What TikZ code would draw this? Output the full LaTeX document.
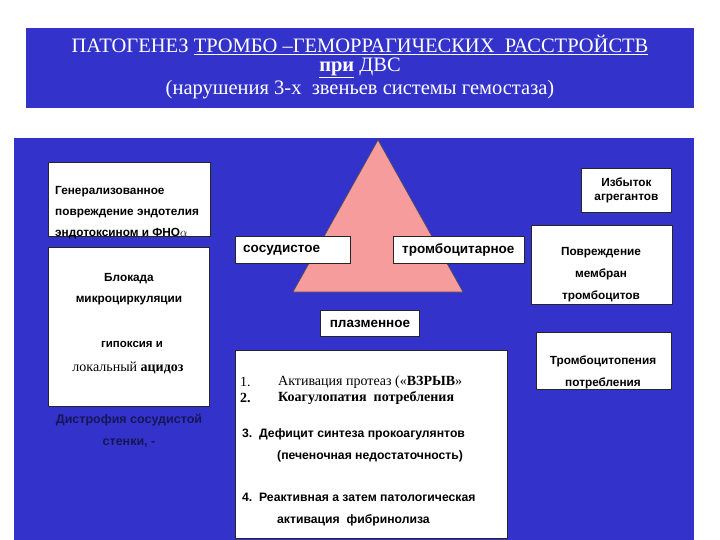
\documentclass[tikz,border=0pt]{standalone}
\usepackage{fontspec}
\setmainfont{Liberation Serif}
\setsansfont{Liberation Sans}
\usetikzlibrary{positioning}
\definecolor{sinij}{RGB}{51,51,204}
\definecolor{rozovyj}{RGB}{246,156,156}
\definecolor{temnyj}{RGB}{22,22,84}
\tikzset{
    fon/.style={fill=sinij,draw=none},
    ramka/.style={draw=black!85,fill=white,line width=0.9pt,anchor=north west,inner sep=0pt},
    bsans/.style={font=\sffamily\bfseries\fontsize{11.8}{21}\selectfont,inner sep=0pt,align=center},
    metka/.style={font=\sffamily\bfseries\fontsize{13.5}{16}\selectfont,inner sep=0pt,anchor=west},
    punkt/.style={font=\fontsize{14}{16}\selectfont,inner sep=0pt,anchor=west},
    punktsans/.style={font=\sffamily\bfseries\fontsize{12.2}{14}\selectfont,inner sep=0pt,anchor=west},
    zag/.style={text=white,font=\fontsize{20.5}{24}\selectfont,inner sep=0pt},
}

\begin{document}
\begin{tikzpicture}[x=1pt,y=-1pt]
\useasboundingbox (0,0) rectangle (720,540);

% fon
\path[fon] (26,28) rectangle (694,108);
\path[fon] (14,138) rectangle (694,540);

% zagolovok
\node[zag] (zag1) at (360,45) {ПАТОГЕНЕЗ \underline{ТРОМБО –ГЕМОРРАГИЧЕСКИХ\ \ РАССТРОЙСТВ}};
\node[zag] (zag2) at (360,68) {\underline{\textbf{при}} ДВС};
\node[zag] (zag3) at (360,90) {(нарушения 3-х\ \ звеньев системы гемостаза)};

% treugolnik
\coordinate (verh) at (378,140);
\coordinate (levo) at (293,292);
\coordinate (pravo) at (463,292);
\draw[fill=rozovyj,draw=black!70,line width=0.6pt] (verh) -- (levo) -- (pravo) -- cycle;

\node[ramka,minimum width=115,minimum height=27] (sosud) at (235,236) {};
\node[metka] (sosudt) at (243,250) {сосудистое};
\node[ramka,minimum width=131,minimum height=27] (tromb) at (393,236) {};
\node[metka] (trombt) at (402,250) {тромбоцитарное};
\node[ramka,minimum width=99,minimum height=26] (plazm) at (320,310) {};
\node[metka,anchor=center] (plazmt) at (plazm.center) {плазменное};

% levaja kolonka
\node[ramka,minimum width=162,minimum height=74] (gener) at (48,162) {};
\node[bsans,align=left,anchor=west] (genert) at (55,213) {Генерализованное\\повреждение эндотелия\\эндотоксином и ФНО$\alpha$};
\node[ramka,minimum width=161,minimum height=159] (blok) at (48,247) {};
\node[bsans] (blokt) at (129,289.5) {Блокада\\микроциркуляции};
\node[bsans,font=\sffamily\bfseries\fontsize{11.5}{13}\selectfont] (gipoks) at (132,344) {гипоксия и};
\node[inner sep=0pt,font=\fontsize{14}{16}\selectfont] (acidoz) at (128,368) {локальный \textbf{ацидоз}};
\node[bsans,text=temnyj,font=\sffamily\bfseries\fontsize{12.5}{22}\selectfont] (distr) at (129,431) {Дистрофия сосудистой\\стенки, -};

% centr
\node[ramka,minimum width=272,minimum height=188] (spisok) at (235,350) {};
\node[punkt] (n1) at (240,382) {1.};
\node[punkt] (p1) at (278,382) {Активация протеаз («\textbf{ВЗРЫВ}»};
\node[punkt,font=\bfseries\fontsize{14}{16}\selectfont] (n2) at (240,398) {2.};
\node[punkt,font=\bfseries\fontsize{14}{16}\selectfont] (p2) at (278,398) {Коагулопатия\ \ потребления};
\node[punktsans] (p3) at (242,434) {3.\ \ Дефицит синтеза прокоагулянтов};
\node[punktsans] (p3b) at (277,456) {(печеночная недостаточность)};
\node[punktsans] (p4) at (242,497) {4.\ \ Реактивная а затем патологическая};
\node[punktsans] (p4b) at (277,520) {активация\ \ фибринолиза};

% pravaja kolonka
\node[ramka,minimum width=90,minimum height=44] (izb) at (581,168) {};
\node[bsans,font=\sffamily\bfseries\fontsize{11.8}{14}\selectfont] (izbt) at (izb.center) {Избыток\\агрегантов};
\node[ramka,minimum width=141,minimum height=79] (povr) at (531,225) {};
\node[bsans,font=\sffamily\bfseries\fontsize{11.8}{22}\selectfont] (povrt) at (601,275) {Повреждение\\мембран\\тромбоцитов};
\node[ramka,minimum width=135,minimum height=57] (trpen) at (536,332) {};
\node[bsans,font=\sffamily\bfseries\fontsize{11.8}{22}\selectfont] (trpent) at (603,372) {Тромбоцитопения\\потребления};
\end{tikzpicture}
\end{document}
